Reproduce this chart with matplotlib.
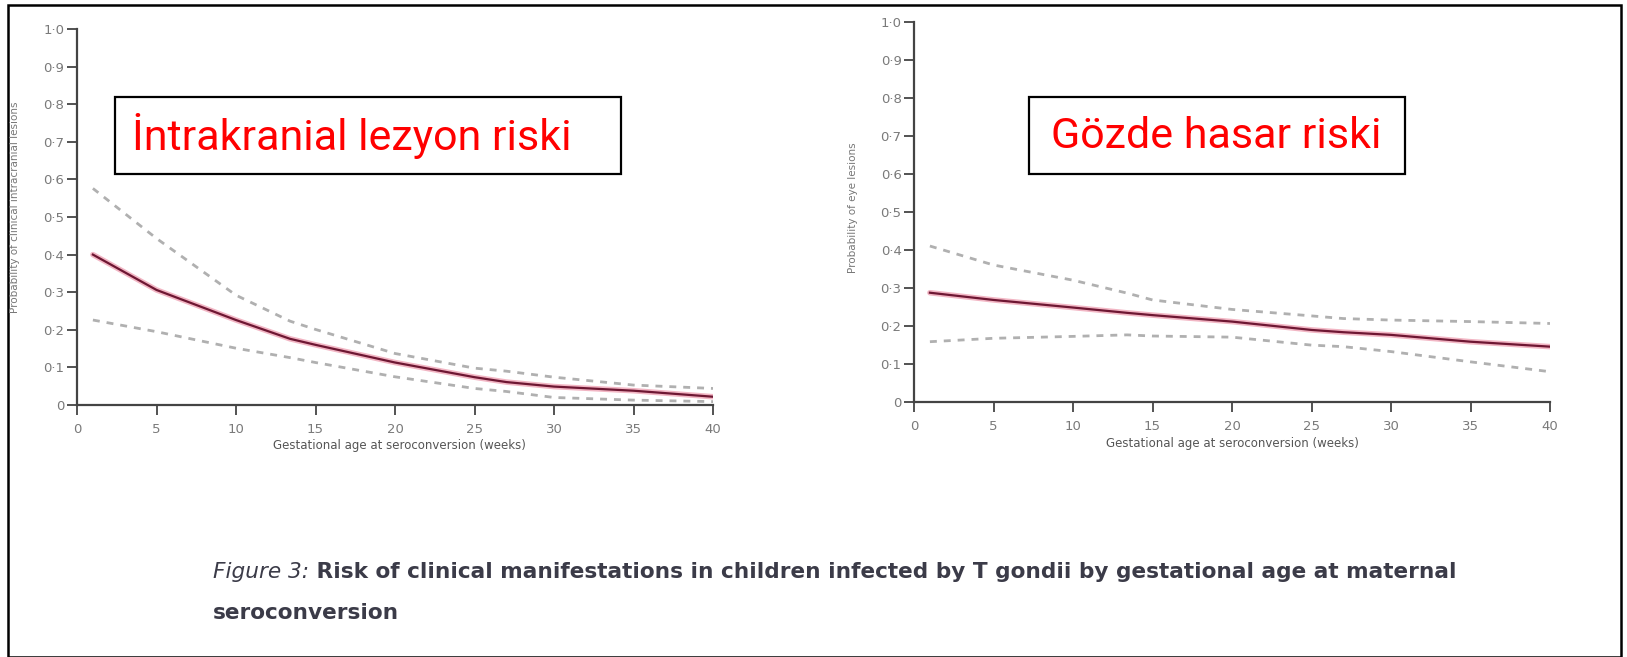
import numpy as np
import matplotlib
matplotlib.use('Agg')
import matplotlib.pyplot as plt
from matplotlib.patches import Rectangle

# --- data ---
weeks = [1, 5, 10, 13.4, 15, 20, 25, 27, 30, 35, 40]

# intracranial lesions
ic_mean = [0.40, 0.306, 0.226, 0.176, 0.160, 0.113, 0.074, 0.061, 0.049, 0.038, 0.022]
ic_upper = [0.576, 0.443, 0.292, 0.223, 0.201, 0.137, 0.098, 0.090, 0.074, 0.053, 0.044]
ic_lower = [0.226, 0.195, 0.151, 0.126, 0.113, 0.075, 0.044, 0.036, 0.020, 0.013, 0.009]

# eye lesions
eye_mean = [0.287, 0.268, 0.248, 0.234, 0.228, 0.211, 0.189, 0.183, 0.176, 0.158, 0.145]
eye_upper = [0.41, 0.36, 0.32, 0.286, 0.268, 0.243, 0.226, 0.219, 0.215, 0.211, 0.206]
eye_lower = [0.158, 0.167, 0.172, 0.176, 0.173, 0.170, 0.149, 0.145, 0.132, 0.105, 0.079]

x_ticks = [0, 5, 10, 15, 20, 25, 30, 35, 40]
y_ticks = [0, 0.1, 0.2, 0.3, 0.4, 0.5, 0.6, 0.7, 0.8, 0.9, 1.0]
y_ticklabels = ['0', '0·1', '0·2', '0·3', '0·4', '0·5', '0·6', '0·7', '0·8', '0·9', '1·0']

xlabel = 'Gestational age at seroconversion (weeks)'
ylabels = ['Probability of clinical intracranial lesions', 'Probability of eye lesions']
box_titles = ['İntrakranial lezyon riski', 'Gözde hasar riski']
caption_head = 'Figure 3:'
caption_rest = ' Risk of clinical manifestations in children infected by T gondii by gestational age at maternal'
caption_line2 = 'seroconversion'

W, H = 1627, 657
fig = plt.figure(figsize=(W / 100, H / 100), dpi=100)


def fx(px):
    return px / W


def fy(py):
    return 1 - py / H


axes_px = [(77, 713, 29, 405), (914, 1550, 22, 401.7)]
series = [(ic_mean, ic_upper, ic_lower), (eye_mean, eye_upper, eye_lower)]

tick_grey = '#7a7a7a'
axis_col = '#444444'

for (x0, x1, yt, yb), (mean, up, lo) in zip(axes_px, series):
    ax = fig.add_axes([fx(x0), fy(yb), (x1 - x0) / W, (yb - yt) / H])
    ax.plot(weeks, up, color='#b0b0b0', lw=2, dashes=(2.5, 2.5))
    ax.plot(weeks, lo, color='#b0b0b0', lw=2, dashes=(2.5, 2.5))
    ax.plot(weeks, mean, color='#f2b6c4', lw=4, solid_capstyle='round')
    ax.plot(weeks, mean, color='#6e1733', lw=1.6)
    ax.set_xlim(0, 40)
    ax.set_ylim(0, 1)
    ax.set_xticks(x_ticks)
    ax.set_yticks(y_ticks)
    ax.set_yticklabels(y_ticklabels)
    for s in ['top', 'right']:
        ax.spines[s].set_visible(False)
    for s in ['left', 'bottom']:
        ax.spines[s].set_color(axis_col)
        ax.spines[s].set_linewidth(1.6)
    ax.tick_params(axis='both', colors=axis_col, labelcolor=tick_grey,
                   width=1.3, length=7, labelsize=9.5)
    ax.tick_params(axis='x', pad=6)
    ax.tick_params(axis='y', pad=2)
    ax.patch.set_alpha(0)

# axis labels as figure text
fig.text(fx(399), fy(446), xlabel, ha='center', va='center', fontsize=8.5,
         color='#555555')
fig.text(fx(1232), fy(443), xlabel, ha='center', va='center', fontsize=8.5,
         color='#555555')
fig.text(fx(15), fy(207), ylabels[0], ha='center', va='center', rotation=90,
         fontsize=7.5, color='#777777')
fig.text(fx(853), fy(208), ylabels[1], ha='center', va='center', rotation=90,
         fontsize=7.5, color='#777777')

# red titles in boxes
boxes = [(115, 621, 97, 174, 132), (1029, 1405, 97, 174, 1051)]
for (bx0, bx1, by0, by1, tx), title in zip(boxes, box_titles):
    fig.patches.append(Rectangle((fx(bx0), fy(by1)), (bx1 - bx0) / W, (by1 - by0) / H,
                                 transform=fig.transFigure, fill=False,
                                 edgecolor='black', lw=1.6))
    fig.text(fx(tx), fy(136), title, ha='left', va='center', color='#ff0000',
             fontsize=31, family='Roboto')

# caption - fit line 1 into 213..1453 px
cap_col = '#3b3b48'
renderer = fig.canvas.get_renderer()
size = 19
t1 = fig.text(fx(213), fy(572), caption_head, ha='left', va='center',
              fontsize=size, color=cap_col, style='italic')
t2 = fig.text(0, fy(572), caption_rest, ha='left', va='center',
              fontsize=size, color=cap_col, weight='bold')
w = t1.get_window_extent(renderer).width + t2.get_window_extent(renderer).width
size = size * 1240 / w
t1.set_fontsize(size)
t2.set_fontsize(size)
bb = t1.get_window_extent(renderer)
t2.set_x(bb.x1 / W)
fig.text(fx(213), fy(613), caption_line2, ha='left', va='center',
         fontsize=size, color=cap_col, weight='bold')

# outer frame
fig.patches.append(Rectangle((fx(8), fy(657)), (1621 - 8) / W, (657 - 5) / H,
                             transform=fig.transFigure, fill=False,
                             edgecolor='black', lw=1.8))

fig.savefig('out.png', dpi=100)
